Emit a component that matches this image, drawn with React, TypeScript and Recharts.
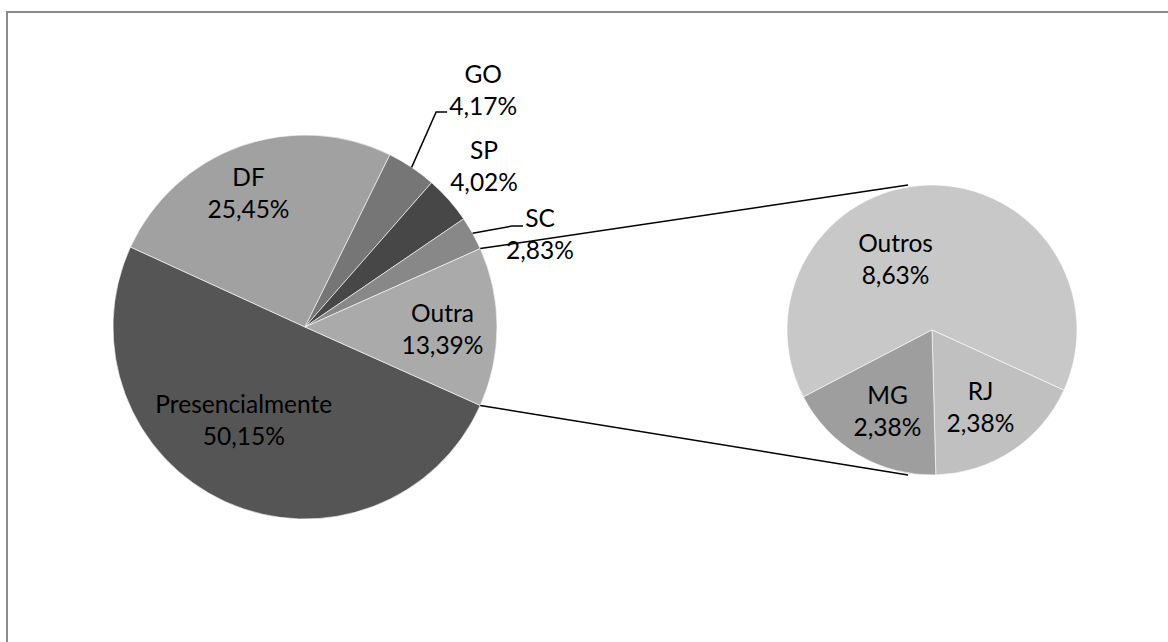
import React from 'react';
import { PieChart, Pie, Cell } from 'recharts';

// ---------- data ----------
const mainCategories = ['Presencialmente', 'DF', 'GO', 'SP', 'SC', 'Outra'];
const mainValues = [50.15, 25.45, 4.17, 4.02, 2.83, 13.39];
const secondaryCategories = ['Outros', 'RJ', 'MG'];
const secondaryValues = [8.63, 2.38, 2.38];

// ---------- style ----------
const mainColors = ['#555555', '#a1a1a1', '#767676', '#474747', '#888888', '#aaaaaa'];
const secondaryColors = ['#c8c8c8', '#c0c0c0', '#9e9e9e'];

const W = 1168;
const H = 642;
const MAIN = { cx: 305, cy: 327, r: 192 };
const SEC = { cx: 932, cy: 330, r: 145 };
const FONT = 'Lato, "Open Sans", sans-serif';
const FS = 24.5;
const LINE = 32;

const mainData = mainCategories.map((name, i) => ({ name, value: mainValues[i] }));
const secondaryData = secondaryCategories.map((name, i) => ({ name, value: secondaryValues[i] }));

const sum = (a: number[]) => a.reduce((s, v) => s + v, 0);
const mainTotal = sum(mainValues);
const otherIdx = mainCategories.indexOf('Outra');
const otherHalf = (mainValues[otherIdx] / mainTotal) * 180;
const mainStart = -otherHalf;
const secTotal = sum(secondaryValues);
const secStart = 90 + (secondaryValues[0] / secTotal) * 180 + 1.5;

const fmt = (v: number) => v.toFixed(2).replace('.', ',') + '%';
const RAD = Math.PI / 180;
const polar = (cx: number, cy: number, r: number, a: number) => ({
  x: cx + r * Math.cos(a * RAD),
  y: cy - r * Math.sin(a * RAD),
});

// label placement tweaks (radius fraction, angle delta)
const insidePlacement: Record<string, { rf: number; da: number }> = {
  DF: { rf: 0.757, da: 3.3 },
  Presencialmente: { rf: 0.58, da: -9 },
  Outra: { rf: 0.716, da: -1 },
  Outros: { rf: 0.55, da: 25.7 },
  RJ: { rf: 0.628, da: -1.3 },
  MG: { rf: 0.637, da: 1.7 },
};
const outsidePlacement: Record<string, { lx: number; ly: number; elbow?: [number, number]; end?: [number, number] }> = {
  GO: { lx: 71.5, ly: -77.3, elbow: [24.5, -55.3], end: [35.5, -55.3] },
  SP: { lx: 35.3, ly: -33.1 },
  SC: { lx: 67.4, ly: 1.2, elbow: [39.4, -7.3], end: [50.4, -7.3] },
};

function TwoLine({ x, y, a, b }: { x: number; y: number; a: string; b: string }) {
  const base1 = y - LINE / 2 + 0.36 * FS;
  return (
    <text textAnchor="middle" fontFamily={FONT} fontSize={FS} fill="#000">
      <tspan x={x} y={base1}>{a}</tspan>
      <tspan x={x} y={base1 + LINE}>{b}</tspan>
    </text>
  );
}

const renderLabel = (props: any) => {
  const { cx, cy, midAngle, outerRadius, value } = props;
  const name: string = props.payload?.name ?? props.name;
  const ins = insidePlacement[name];
  if (ins) {
    const p = polar(cx, cy, outerRadius * ins.rf, midAngle + ins.da);
    return <TwoLine x={p.x} y={p.y} a={name} b={fmt(value)} />;
  }
  const out = outsidePlacement[name];
  if (out) {
    const e = polar(cx, cy, outerRadius, midAngle);
    return (
      <g>
        {out.elbow && out.end && (
          <polyline
            points={`${e.x},${e.y} ${e.x + out.elbow[0]},${e.y + out.elbow[1]} ${e.x + out.end[0]},${e.y + out.end[1]}`}
            fill="none"
            stroke="#000"
            strokeWidth={1.5}
          />
        )}
        <TwoLine x={e.x + out.lx} y={e.y + out.ly} a={name} b={fmt(value)} />
      </g>
    );
  }
  return null;
};

export default function App() {
  const topA = polar(MAIN.cx, MAIN.cy, MAIN.r, otherHalf);
  const botA = polar(MAIN.cx, MAIN.cy, MAIN.r, -otherHalf);
  const topB = polar(SEC.cx, SEC.cy, SEC.r + 2, 99.4);
  const botB = polar(SEC.cx, SEC.cy, SEC.r + 2, -99.4);
  return (
    <div style={{ position: 'absolute', left: 0, top: 0, width: W, height: H, background: '#fff', overflow: 'hidden' }}>
      <PieChart width={W} height={H} margin={{ top: 0, right: 0, bottom: 0, left: 0 }}>
        <Pie
          data={mainData}
          dataKey="value"
          nameKey="name"
          cx={MAIN.cx}
          cy={MAIN.cy}
          outerRadius={MAIN.r}
          startAngle={mainStart}
          endAngle={mainStart - 360}
          stroke="#ffffff"
          strokeWidth={0.6}
          label={renderLabel}
          labelLine={false}
          isAnimationActive={false}
        >
          {mainData.map((d, i) => (
            <Cell key={d.name} fill={mainColors[i]} />
          ))}
        </Pie>
        <Pie
          data={secondaryData}
          dataKey="value"
          nameKey="name"
          cx={SEC.cx}
          cy={SEC.cy}
          outerRadius={SEC.r}
          startAngle={secStart}
          endAngle={secStart - 360}
          stroke="#ffffff"
          strokeWidth={0.6}
          label={renderLabel}
          labelLine={false}
          isAnimationActive={false}
        >
          {secondaryData.map((d, i) => (
            <Cell key={d.name} fill={secondaryColors[i]} />
          ))}
        </Pie>
      </PieChart>
      <svg
        width={W}
        height={H}
        style={{ position: 'absolute', left: 0, top: 0, pointerEvents: 'none' }}
      >
        <rect x={7} y={12} width={W + 50} height={H + 50} fill="none" stroke="#8b8b8b" strokeWidth={2} />
        <line x1={topA.x} y1={topA.y} x2={topB.x} y2={topB.y} stroke="#000" strokeWidth={1.5} />
        <line x1={botA.x} y1={botA.y} x2={botB.x} y2={botB.y} stroke="#000" strokeWidth={1.5} />
      </svg>
    </div>
  );
}
